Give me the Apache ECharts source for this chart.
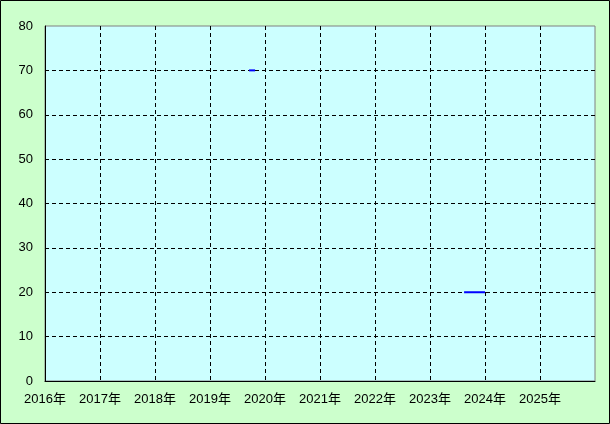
<!DOCTYPE html>
<html><head><meta charset="utf-8">
<script src="https://cdn.jsdelivr.net/npm/echarts@6/dist/echarts.min.js"></script>
<style>html,body{margin:0;padding:0;background:#ccffcc}#c{width:610px;height:424px}</style>
</head><body><div id="c"></div>
<script>
const years = [2016,2017,2018,2019,2020,2021,2022,2023,2024,2025];
const yTicks = [0,10,20,30,40,50,60,70,80];
const seriesA = [[2019.71,70],[2019.82,70]];
const seriesB = [[2023.62,20],[2024.0,20]];

const font = "'Liberation Sans','Noto Sans CJK JP',sans-serif";
const chart = echarts.init(document.getElementById('c'));
chart.setOption({
  backgroundColor:'#ccffcc',
  animation:false,
  graphic:[{type:'rect',shape:{x:0.5,y:0.5,width:609,height:423},style:{fill:'none',stroke:'#000',lineWidth:1},z:100}],
  grid:{left:45,top:26,width:550,height:355,show:true,backgroundColor:'#ccffff',borderColor:'#808080',borderWidth:1},
  xAxis:{type:'value',min:years[0],max:years[years.length-1]+1,interval:1,
    axisLine:{show:true,lineStyle:{color:'#000',width:1}},axisTick:{show:false},
    axisLabel:{margin:12,color:'#000',fontSize:13,fontFamily:font,
      formatter:v=>years.indexOf(v)>=0?v+'年':''},
    splitLine:{show:true,showMinLine:false,showMaxLine:false,lineStyle:{color:'#000',type:[4,3],width:1}}},
  yAxis:{type:'value',min:yTicks[0],max:yTicks[yTicks.length-1],interval:10,
    axisLine:{show:true,lineStyle:{color:'#000',width:1}},axisTick:{show:false},
    axisLabel:{margin:12,color:'#000',fontSize:13,fontFamily:font},
    splitLine:{show:true,showMinLine:false,showMaxLine:false,lineStyle:{color:'#000',type:[4,3],width:1}}},
  series:[
    {type:'line',data:seriesA,symbol:'none',lineStyle:{color:'#0000ff',width:2}},
    {type:'line',data:seriesB,symbol:'none',lineStyle:{color:'#0000ff',width:2}}
  ]
});
</script></body></html>
